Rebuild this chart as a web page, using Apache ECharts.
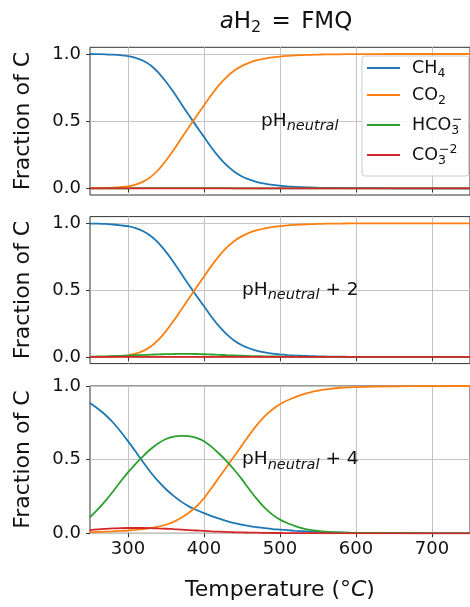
<!DOCTYPE html>
<html>
<head>
<meta charset="utf-8">
<script src="https://cdn.jsdelivr.net/npm/echarts@6/dist/echarts.min.js"></script>
<style>
html,body{margin:0;padding:0;background:#fff;}
#chart{width:470px;height:607px;}
</style>
</head>
<body>
<div id="chart"></div>
<script>
// ---------- data ----------
const temps = [250,260,270,280,290,300,310,320,330,340,350,360,370,380,390,400,410,420,430,440,450,460,470,480,490,500,510,520,530,540,550,560,570,580,590,600,650,700,750];

// panel 1 : pH neutral
const p1_ch4  = [1.000,0.999,0.998,0.995,0.991,0.985,0.972,0.950,0.915,0.862,0.793,0.715,0.630,0.545,0.463,0.383,0.302,0.230,0.170,0.123,0.088,0.064,0.046,0.034,0.025,0.019,0.014,0.010,0.008,0.006,0.004,0.003,0.002,0.002,0.001,0.001,0.000,0.000,0.000];
const p1_co2  = [0.000,0.001,0.002,0.005,0.009,0.015,0.028,0.050,0.085,0.138,0.207,0.285,0.370,0.455,0.537,0.617,0.698,0.770,0.830,0.877,0.912,0.936,0.954,0.966,0.975,0.981,0.986,0.990,0.992,0.994,0.996,0.997,0.998,0.998,0.999,0.999,1.000,1.000,1.000];
const p1_hco3 = [0,0,0,0,0,0,0.001,0.001,0.001,0.001,0.001,0.001,0.001,0.001,0.001,0.001,0.001,0.001,0.001,0,0,0,0,0,0,0,0,0,0,0,0,0,0,0,0,0,0,0,0];
const p1_co3  = [0,0,0,0,0,0,0,0,0,0,0,0,0,0,0,0,0,0,0,0,0,0,0,0,0,0,0,0,0,0,0,0,0,0,0,0,0,0,0];

// panel 2 : pH neutral + 2
const p2_ch4  = [0.998,0.997,0.995,0.991,0.985,0.978,0.963,0.940,0.905,0.854,0.786,0.708,0.624,0.540,0.458,0.379,0.299,0.228,0.168,0.121,0.087,0.063,0.046,0.034,0.025,0.019,0.014,0.010,0.008,0.006,0.004,0.003,0.002,0.002,0.001,0.001,0.000,0.000,0.000];
const p2_co2  = [0.000,0.000,0.001,0.003,0.007,0.012,0.024,0.045,0.078,0.127,0.193,0.270,0.353,0.437,0.520,0.601,0.683,0.756,0.819,0.868,0.904,0.930,0.948,0.962,0.972,0.978,0.984,0.988,0.991,0.993,0.995,0.997,0.998,0.998,0.999,0.999,1.000,1.000,1.000];
const p2_hco3 = [0.002,0.003,0.004,0.006,0.008,0.010,0.013,0.015,0.017,0.019,0.021,0.022,0.023,0.023,0.022,0.020,0.018,0.016,0.013,0.011,0.009,0.007,0.006,0.004,0.003,0.003,0.002,0.002,0.001,0.001,0.001,0,0,0,0,0,0,0,0];
const p2_co3  = [0,0,0,0,0,0,0,0,0,0,0,0,0,0,0,0,0,0,0,0,0,0,0,0,0,0,0,0,0,0,0,0,0,0,0,0,0,0,0];

// panel 3 : pH neutral + 4
const p3_ch4  = [0.885,0.847,0.805,0.754,0.693,0.626,0.555,0.482,0.413,0.352,0.299,0.254,0.215,0.183,0.158,0.137,0.117,0.099,0.083,0.069,0.058,0.048,0.041,0.035,0.029,0.025,0.021,0.017,0.014,0.011,0.009,0.007,0.006,0.005,0.004,0.003,0.001,0.000,0.000];
const p3_co2  = [0.007,0.009,0.011,0.013,0.016,0.019,0.023,0.028,0.035,0.045,0.058,0.078,0.105,0.140,0.182,0.238,0.308,0.380,0.452,0.525,0.597,0.670,0.738,0.795,0.840,0.876,0.903,0.925,0.943,0.957,0.968,0.977,0.983,0.988,0.991,0.993,0.998,0.999,1.000];
const p3_hco3 = [0.109,0.160,0.218,0.282,0.350,0.414,0.472,0.524,0.572,0.612,0.640,0.656,0.662,0.660,0.648,0.625,0.587,0.540,0.488,0.430,0.366,0.296,0.230,0.172,0.127,0.093,0.068,0.049,0.034,0.023,0.016,0.011,0.008,0.006,0.004,0.003,0.001,0.000,0.000];
const p3_co3  = [0.022,0.026,0.030,0.033,0.035,0.036,0.036,0.036,0.035,0.033,0.031,0.028,0.025,0.022,0.019,0.016,0.013,0.011,0.009,0.007,0.006,0.005,0.004,0.003,0.002,0.002,0.001,0.001,0.001,0.001,0.001,0,0,0,0,0,0,0,0];

const speciesNames = ['CH4','CO2','HCO3-','CO3-2'];
const speciesColors = ['#1f77b4','#ff7f0e','#2ca02c','#d62728'];
const xTicks = [300,400,500,600,700];
const yTicks = [0,0.5,1];
const panelLabels = ['{b|pH}{s|neutral}', '{b|pH}{s|neutral}{b| + 2}', '{b|pH}{s|neutral}{b| + 4}'];
const panelLabelX = [475, 450, 450];
const panelLabelY = [0.5, 0.5, 0.5];

// ---------- chart ----------
const FONT = 'DejaVu Sans';
const TXT = '#111111';
const panels = [
  [p1_ch4, p1_co2, p1_hco3, p1_co3],
  [p2_ch4, p2_co2, p2_hco3, p2_co3],
  [p3_ch4, p3_co2, p3_hco3, p3_co3]
];
const gridTops = [47.3, 216.6, 386];
const gridHeights = [147.7, 147, 147.3];
const yMin = [-0.05, -0.05, 0];
const yMax = [1.05, 1.05, 1];

const baseTok = {fontFamily: FONT, color: TXT, fontWeight: 'normal', textBorderWidth: 0, textShadowBlur: 0, opacity: 1};
const richText = {
  b: Object.assign({}, baseTok, {fontSize: 18.5, lineHeight: 26, verticalAlign: 'middle'}),
  s: Object.assign({}, baseTok, {fontSize: 14.5, lineHeight: 14, fontStyle: 'italic', verticalAlign: 'bottom'})
};

const grids = [], xAxes = [], yAxes = [], series = [];
for (let p = 0; p < 3; p++) {
  grids.push({left: 90, right: -2, top: gridTops[p], height: gridHeights[p],
    show: true, borderColor: '#333', borderWidth: 1, backgroundColor: 'transparent'});
  xAxes.push({
    type: 'value', gridIndex: p, min: 250, max: 750,
    axisLine: {show: false},
    axisTick: {show: true, inside: false, length: 4, lineStyle: {color: '#333', width: 1}, customValues: xTicks},
    axisLabel: {show: p === 2, customValues: xTicks, margin: 7, fontSize: 18, fontFamily: FONT, color: TXT},
    splitLine: {show: true, lineStyle: {color: '#c4c4c4', width: 1}},
    name: p === 2 ? '{b|Temperature (}{d|°}{i|C}{b|)}' : '',
    nameLocation: 'middle', nameGap: 44,
    nameTextStyle: {rich: {
      b: Object.assign({}, baseTok, {fontSize: 22, lineHeight: 26}),
      d: Object.assign({}, baseTok, {fontSize: 22, lineHeight: 26}),
      i: Object.assign({}, baseTok, {fontSize: 22, lineHeight: 26, fontStyle: 'italic'})
    }}
  });
  yAxes.push({
    type: 'value', gridIndex: p, min: yMin[p], max: yMax[p],
    axisLine: {show: false},
    axisTick: {show: true, inside: false, length: 4, lineStyle: {color: '#333', width: 1}, customValues: yTicks},
    axisLabel: {customValues: yTicks, margin: 9, fontSize: 18, fontFamily: FONT, color: TXT,
      formatter: v => v.toFixed(1)},
    splitLine: {show: true, lineStyle: {color: '#c4c4c4', width: 1}},
    name: 'Fraction of C', nameLocation: 'middle', nameRotate: 90, nameGap: 56,
    nameTextStyle: {fontSize: 22, fontFamily: FONT, color: TXT}
  });
  panels[p].forEach((vals, k) => {
    series.push({
      type: 'line', name: speciesNames[k], xAxisIndex: p, yAxisIndex: p,
      data: temps.map((t, i) => [t, vals[i]]),
      showSymbol: false, symbol: 'none', smooth: 0.3,
      lineStyle: {color: speciesColors[k], width: 1.8},
      itemStyle: {color: speciesColors[k]},
      clip: true, silent: true, z: 3 + k
    });
  });
  series.push({
    type: 'scatter', name: 'label' + p, xAxisIndex: p, yAxisIndex: p,
    data: [[panelLabelX[p], panelLabelY[p]]], symbolSize: 0, silent: true, z: 10,
    itemStyle: {color: TXT, opacity: 1},
    emphasis: {disabled: true},
    label: {show: true, position: 'right', distance: 0, formatter: panelLabels[p], rich: richText,
      color: TXT, opacity: 1, textBorderWidth: 0}
  });
}

const legendText = {
  'CH4': '{b|CH}{s|4}',
  'CO2': '{b|CO}{s|2}',
  'HCO3-': '{b|HCO}{s|3}{p|−}',
  'CO3-2': '{b|CO}{s|3}{p|−2}'
};

const chart = echarts.init(document.getElementById('chart'), null, {renderer: 'canvas'});
chart.setOption({
  animation: false,
  backgroundColor: '#ffffff',
  title: {
    text: '{i|a}{b|H}{s|2}{e| = }{b|FMQ}', left: 281, top: 3, textAlign: 'center',
    textStyle: {fontWeight: 'normal', rich: {
      i: Object.assign({}, baseTok, {fontSize: 23, lineHeight: 28, fontStyle: 'italic'}),
      b: Object.assign({}, baseTok, {fontSize: 23, lineHeight: 28}),
      e: Object.assign({}, baseTok, {fontSize: 23, lineHeight: 28, padding: [0, 3, 0, 3]}),
      s: Object.assign({}, baseTok, {fontSize: 16, lineHeight: 16, verticalAlign: 'bottom'})
    }}
  },
  grid: grids, xAxis: xAxes, yAxis: yAxes, series: series,
  legend: {
    data: speciesNames, orient: 'vertical', left: 362, top: 56,
    padding: [3, 6, 9, 5], itemGap: 6, itemWidth: 33, itemHeight: 2, icon: 'rect',
    backgroundColor: 'rgba(255,255,255,0.85)', borderColor: '#cccccc', borderWidth: 1, borderRadius: 3,
    formatter: name => legendText[name],
    textStyle: {padding: [0, 0, 0, 7], rich: {
      b: Object.assign({}, baseTok, {fontSize: 17.5, lineHeight: 24, verticalAlign: 'middle'}),
      s: Object.assign({}, baseTok, {fontSize: 12.5, lineHeight: 12, verticalAlign: 'bottom'}),
      p: Object.assign({}, baseTok, {fontSize: 12.5, lineHeight: 14, verticalAlign: 'top', padding: [0, 0, 0, -7]})
    }}
  }
});
</script>
</body>
</html>
